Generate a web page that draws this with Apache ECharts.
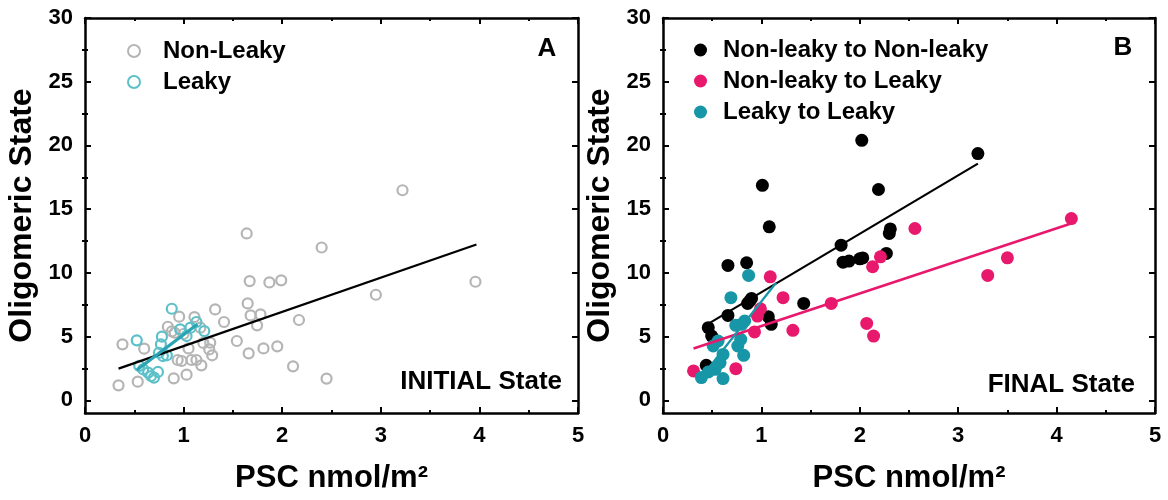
<!DOCTYPE html>
<html>
<head>
<meta charset="utf-8">
<script src="https://cdn.jsdelivr.net/npm/echarts@6/dist/echarts.min.js"></script>
<style>html,body{margin:0;padding:0;background:#fff}#c{width:1168px;height:500px}</style>
</head>
<body>
<div id="c"></div>
<script>
// ---- data ----
const xTicks = [0, 1, 2, 3, 4, 5];
const yTicks = [0, 5, 10, 15, 20, 25, 30];
const yMinorTicks = [2.5, 7.5, 12.5, 17.5, 22.5, 27.5];

const initNonLeaky = [[0.34,1.17],[0.38,4.39],[0.535,1.46],[0.60,4.05],[0.84,5.77],[0.90,1.72],[0.955,6.56],[0.91,5.3],[0.94,3.16],[0.98,3.08],[1.03,2.01],[1.05,4.07],[1.08,3.16],[1.11,6.53],[1.13,3.16],[1.18,2.74],[1.17,5.7],[1.27,4.52],[1.26,3.99],[1.29,3.53],[1.32,7.13],[1.41,6.14],[1.54,4.65],[1.64,13.09],[1.66,3.68],[1.67,9.35],[1.65,7.6],[1.68,6.66],[1.745,5.88],[1.78,6.74],[1.81,4.07],[1.87,9.25],[1.99,9.41],[1.95,4.23],[2.11,2.66],[2.17,6.3],[2.40,11.99],[2.45,1.7],[2.95,8.28],[3.22,16.48],[3.96,9.3],[0.88,5.4],[1.0,5.2],[1.2,4.5]];
const initLeaky = [[0.525,4.7],[0.88,7.18],[0.78,4.99],[0.77,4.39],[0.75,3.73],[0.79,3.47],[0.83,3.53],[0.965,5.56],[1.03,5.04],[1.13,6.14],[1.21,5.43],[0.59,2.43],[0.64,2.17],[0.70,1.78],[0.74,2.22],[0.67,1.9],[0.55,2.7],[1.07,5.7]];
const fitInitNonLeaky = [[0.34,2.48],[3.97,12.22]];
const fitInitLeaky = [[0.525,2.38],[1.14,5.96]];

const finalNN = [[2.02,20.4],[3.20,19.36],[1.01,16.87],[2.19,16.54],[1.08,13.61],[2.31,13.45],[2.30,13.09],[1.81,12.17],[1.83,10.84],[1.89,10.92],[2.00,11.1],[2.03,11.17],[2.27,11.52],[0.66,10.58],[0.85,10.79],[0.88,7.78],[0.90,7.99],[0.86,7.6],[1.43,7.6],[0.66,6.66],[0.46,5.7],[0.495,5.04],[1.07,6.56],[1.10,5.96],[0.44,2.74]];
const finalNL = [[4.15,14.26],[2.56,13.48],[3.50,11.18],[3.30,9.8],[2.21,11.26],[2.13,10.48],[1.09,9.69],[1.22,8.05],[1.71,7.6],[0.99,7.18],[0.96,6.61],[2.07,6.03],[2.14,5.04],[1.32,5.49],[0.93,5.36],[0.74,2.48],[0.31,2.3]];
const finalLL = [[0.87,9.8],[0.69,8.05],[0.83,6.22],[0.74,5.88],[0.79,4.78],[0.76,4.26],[0.82,3.53],[0.56,4.65],[0.61,3.6],[0.58,2.95],[0.53,2.43],[0.46,2.22],[0.39,1.78],[0.61,1.7],[0.51,4.26],[0.8,5.96]];
const fitNN = [[0.48,6.09],[3.20,18.57]];
const fitNL = [[0.31,4.07],[4.14,13.85]];
const fitLL = [[0.42,2.1],[1.15,9.22]];

// ---- styling / layout ----
const FONT = 'Liberation Sans, Arial, sans-serif';
const AX = '#000';
const grids = [
  {left: 85, right: 590, top: 18, bottom: 87},
  {left: 663, right: 13, top: 18, bottom: 87}
];

function xAxes(gi) {
  return [
    {type:'value', gridIndex:gi, position:'bottom', min:0, max:5, interval:1,
     name:'PSC nmol/m²', nameLocation:'middle', nameGap:50,
     nameTextStyle:{fontFamily:FONT, fontWeight:'bold', fontSize:31, color:'#000'},
     axisLine:{show:true, onZero:false, lineStyle:{color:AX, width:2.5}},
     axisTick:{show:true, inside:true, length:6, lineStyle:{color:AX, width:2}},
     minorTick:{show:true, splitNumber:2, length:3, lineStyle:{color:AX, width:2}},
     axisLabel:{fontFamily:FONT, fontWeight:'bold', fontSize:22, color:'#000', margin:12},
     splitLine:{show:false}},
    {type:'value', gridIndex:gi, position:'top', min:0, max:5, interval:1,
     axisLine:{show:true, onZero:false, lineStyle:{color:AX, width:2.5}},
     axisTick:{show:true, inside:true, length:6, lineStyle:{color:AX, width:2}},
     minorTick:{show:true, splitNumber:2, length:3, lineStyle:{color:AX, width:2}},
     axisLabel:{show:false}, splitLine:{show:false}}
  ];
}
function yAxes(gi) {
  const base = {type:'value', gridIndex:gi, min:-1, max:30, splitLine:{show:false}};
  return [
    Object.assign({}, base, {position:'left',
      name:'Oligomeric State', nameLocation:'middle', nameGap:47,
      nameTextStyle:{fontFamily:FONT, fontWeight:'bold', fontSize:32, color:'#000'},
      axisLine:{show:true, onZero:false, lineStyle:{color:AX, width:2.5}},
      axisTick:{show:true, inside:true, length:6, customValues:yTicks, lineStyle:{color:AX, width:2}},
      axisLabel:{fontFamily:FONT, fontWeight:'bold', fontSize:22, color:'#000', margin:12, customValues:yTicks}}),
    Object.assign({}, base, {position:'right',
      axisLine:{show:true, onZero:false, lineStyle:{color:AX, width:2.5}},
      axisTick:{show:true, inside:true, length:6, customValues:yTicks, lineStyle:{color:AX, width:2}},
      axisLabel:{show:false}}),
    Object.assign({}, base, {position:'left',
      axisLine:{show:false},
      axisTick:{show:true, inside:true, length:3, customValues:yMinorTicks, lineStyle:{color:AX, width:2}},
      axisLabel:{show:false}}),
    Object.assign({}, base, {position:'right',
      axisLine:{show:false},
      axisTick:{show:true, inside:true, length:3, customValues:yMinorTicks, lineStyle:{color:AX, width:2}},
      axisLabel:{show:false}})
  ];
}

const GREY = '#b5b5b5', CYAN = '#5cc0c9', CYANLINE = '#2aa3b3';
const PINK = '#e8186d', TEAL = '#1796a7';

const option = {
  animation:false,
  backgroundColor:'#fff',
  grid: grids,
  xAxis: [...xAxes(0), ...xAxes(1)],
  yAxis: [...yAxes(0), ...yAxes(1)],
  legend: [
    {orient:'vertical', left:122, top:34, itemWidth:12, itemHeight:12, itemGap:7,
     data:['Non-Leaky','Leaky'],
     textStyle:{fontFamily:FONT, fontWeight:'bold', fontSize:24, color:'#000', padding:[0,0,0,18]}},
    {orient:'vertical', left:689, top:33, itemWidth:13, itemHeight:13, itemGap:7,
     data:['Non-leaky to Non-leaky','Non-leaky to Leaky','Leaky to Leaky'],
     textStyle:{fontFamily:FONT, fontWeight:'bold', fontSize:24, color:'#000', padding:[0,0,0,11]}}
  ],
  graphic: [
    {type:'text', x:547, y:49, style:{text:'A', align:'center', verticalAlign:'middle', font:'bold 26px ' + FONT, fill:'#000'}},
    {type:'text', x:562, y:382, style:{text:'INITIAL State', align:'right', verticalAlign:'middle', font:'bold 26px ' + FONT, fill:'#000'}},
    {type:'text', x:1123, y:48, style:{text:'B', align:'center', verticalAlign:'middle', font:'bold 26px ' + FONT, fill:'#000'}},
    {type:'text', x:1135, y:385, style:{text:'FINAL State', align:'right', verticalAlign:'middle', font:'bold 26px ' + FONT, fill:'#000'}}
  ],
  series: [
    {name:'Non-Leaky', type:'scatter', xAxisIndex:0, yAxisIndex:0, data:initNonLeaky, symbol:'circle', symbolSize:10,
     itemStyle:{color:'rgba(255,255,255,0)', borderColor:GREY, borderWidth:2.2, opacity:1}, z:2},
    {name:'Leaky', type:'scatter', xAxisIndex:0, yAxisIndex:0, data:initLeaky, symbol:'circle', symbolSize:10,
     itemStyle:{color:'rgba(255,255,255,0)', borderColor:CYAN, borderWidth:2.2, opacity:1}, z:3},
    {name:'fitA1', type:'line', xAxisIndex:0, yAxisIndex:0, data:fitInitNonLeaky, symbol:'none',
     lineStyle:{color:'#000', width:2.2}, z:4},
    {name:'fitA2', type:'line', xAxisIndex:0, yAxisIndex:0, data:fitInitLeaky, symbol:'none',
     lineStyle:{color:CYANLINE, width:3.2}, z:5},

    {name:'Non-leaky to Non-leaky', type:'scatter', xAxisIndex:2, yAxisIndex:4, data:finalNN, symbol:'circle', symbolSize:13,
     itemStyle:{color:'#000', opacity:1}, z:2},
    {name:'Non-leaky to Leaky', type:'scatter', xAxisIndex:2, yAxisIndex:4, data:finalNL, symbol:'circle', symbolSize:13,
     itemStyle:{color:PINK, opacity:1}, z:3},
    {name:'Leaky to Leaky', type:'scatter', xAxisIndex:2, yAxisIndex:4, data:finalLL, symbol:'circle', symbolSize:13,
     itemStyle:{color:TEAL, opacity:1}, z:4},
    {name:'fitB1', type:'line', xAxisIndex:2, yAxisIndex:4, data:fitNN, symbol:'none',
     lineStyle:{color:'#000', width:2.2}, z:5},
    {name:'fitB2', type:'line', xAxisIndex:2, yAxisIndex:4, data:fitNL, symbol:'none',
     lineStyle:{color:PINK, width:2.6}, z:5},
    {name:'fitB3', type:'line', xAxisIndex:2, yAxisIndex:4, data:fitLL, symbol:'none',
     lineStyle:{color:TEAL, width:2.2}, z:6}
  ]
};
const chart = echarts.init(document.getElementById('c'), null, {renderer:'canvas'});
chart.setOption(option);
</script>
</body>
</html>
